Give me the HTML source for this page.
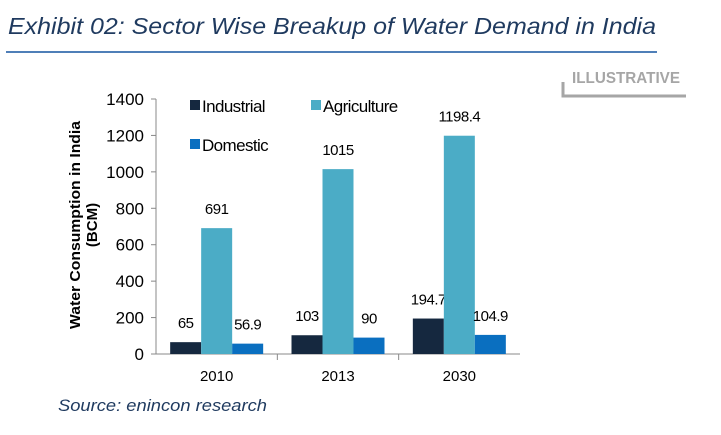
<!DOCTYPE html>
<html><head><meta charset="utf-8"><style>
body{margin:0;background:#fff;width:721px;height:430px;overflow:hidden;font-family:"Liberation Sans",sans-serif}
</style></head><body>
<svg width="721" height="430">
<text x="8" y="34" font-size="23" font-style="italic" fill="#1f3a5f" textLength="648" lengthAdjust="spacingAndGlyphs">Exhibit 02: Sector Wise Breakup of Water Demand in India</text>
<line x1="6" y1="52" x2="657" y2="52" stroke="#4f7fb8" stroke-width="2"/>
<text x="572" y="83" font-size="16" font-weight="bold" fill="#a6a6a6" textLength="108" lengthAdjust="spacingAndGlyphs">ILLUSTRATIVE</text>
<path d="M563 82 V96 H686" stroke="#a6a6a6" stroke-width="3" fill="none"/>
<text transform="translate(80,225) rotate(-90)" text-anchor="middle" font-size="15" font-weight="bold"><tspan x="0" dy="0" textLength="208" lengthAdjust="spacingAndGlyphs">Water Consumption in India</tspan><tspan x="0" dy="17">(BCM)</tspan></text>
<g id="plot"></g>
<text x="58" y="411" font-size="17" font-style="italic" fill="#1f3a5f" textLength="209" lengthAdjust="spacingAndGlyphs">Source: enincon research</text>
</svg>
<script>
const categories=["2010","2013","2030"];
const industrial=[65,103,194.7];
const agriculture=[691,1015,1198.4];
const domestic=[56.9,90,104.9];
const yTicks=[0,200,400,600,800,1000,1200,1400];
const seriesNames=["Industrial","Agriculture","Domestic"];
const colors=["#15283f","#4bacc6","#0a6fc0"];
const X0=156,X1=520,Y0=354,Y1=99,YMAX=1400;
const y=v=>Y0-(v/YMAX)*(Y0-Y1);
const gw=(X1-X0)/categories.length;
const bw=31;
const NS="http://www.w3.org/2000/svg";
const g=document.getElementById("plot");
function mk(t,a){const e=document.createElementNS(NS,t);for(const k in a)e.setAttribute(k,a[k]);g.appendChild(e);return e;}
let ax=mk("line",{x1:X0,y1:Y1,x2:X0,y2:Y0,stroke:"#888"});


let xa=mk("line",{x1:X0,y1:Y0,x2:X1,y2:Y0,stroke:"#888"});


yTicks.forEach(t=>{
 const l=mk("line",{x1:X0-5,y1:y(t),x2:X0,y2:y(t),stroke:"#888"});
 
 
 const tx=mk("text",{x:X0-12,y:y(t)+6,"text-anchor":"end","font-size":"17"});
 tx.textContent=t;
 
 
});
const series=[industrial,agriculture,domestic];
categories.forEach((c,i)=>{
 const gx=X0+gw*i;
 if(i>0){const l=mk("line",{x1:gx,y1:Y0,x2:gx,y2:Y0+6,stroke:"#888"});
 
 }
 const cx=gx+gw/2;
 const tx=mk("text",{x:cx,y:Y0+27,"text-anchor":"middle","font-size":"15"});
 tx.textContent=c;
 
 
 series.forEach((s,j)=>{
  const bx=cx-1.5*bw+j*bw;
  const r=mk("rect",{x:bx,y:y(s[i]),width:bw,height:Y0-y(s[i]),fill:colors[j]});
  
  
  const lb=mk("text",{x:bx+bw/2,y:y(s[i])-14,"text-anchor":"middle","font-size":"15","letter-spacing":"-0.5"});
  lb.textContent=s[i];
  
  
 });
});
const legPos=[[190,100],[311,100],[190,139]];
seriesNames.forEach((n,j)=>{
 const [lx,ly]=legPos[j];
 const r=mk("rect",{x:lx,y:ly,width:10,height:10,fill:colors[j]});
 
 
 const t=mk("text",{x:lx+12,y:ly+12,"font-size":"17","letter-spacing":"-0.6"});
 t.textContent=n;
 
 
});
</script>
</body></html>
